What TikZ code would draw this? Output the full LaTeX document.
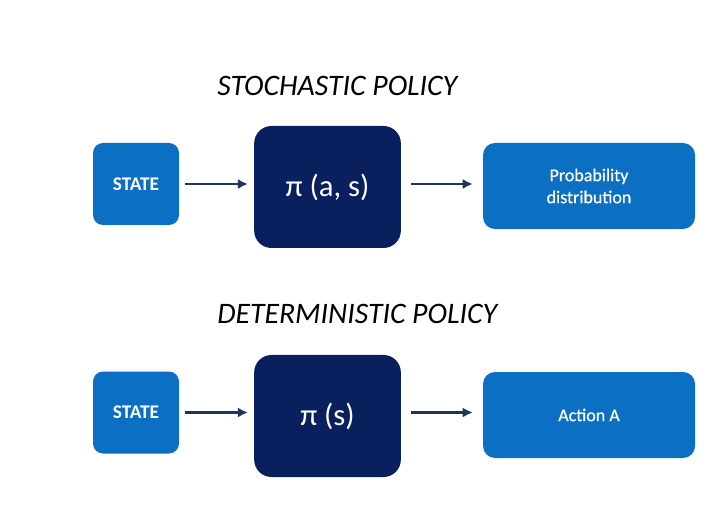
\documentclass[tikz,border=0pt]{standalone}
\usepackage{fontspec}
\setmainfont{Carlito}
\newfontfamily\semibold[FakeBold=0.6]{Carlito}
\usetikzlibrary{arrows.meta, positioning}
\definecolor{boxBlue}{HTML}{0B6FC4}
\definecolor{boxNavy}{HTML}{0A1F5E}
\definecolor{arrowNavy}{HTML}{1F3260}

\begin{document}
\begin{tikzpicture}[x=0.75pt, y=-0.75pt]
  \tikzstyle{box}=[rectangle, fill=boxBlue, text=white, align=center, inner sep=0pt]
  \tikzstyle{state box}=[box, minimum width=64.5pt, minimum height=61.5pt, rounded corners=7.5pt, font=\fontsize{14.5}{17}\selectfont\bfseries]
  \tikzstyle{policy box}=[box, fill=boxNavy, minimum width=110pt, minimum height=91.5pt, rounded corners=13pt, font=\fontsize{23}{26}\selectfont]
  \tikzstyle{out box}=[box, minimum width=159pt, minimum height=64.5pt, rounded corners=9pt, font=\fontsize{13.5}{16.5}\selectfont\semibold]
  \tikzstyle{title}=[anchor=west, inner sep=0pt, font=\fontsize{22.3}{26}\selectfont\itshape]
  \tikzstyle{arr}=[draw=arrowNavy, line width=1.6pt, -{Latex[length=7.5pt, width=7.5pt]}]

  \useasboundingbox[fill=white] (0,0) rectangle (727,530);

  % Stochastic policy
  \node[title] (t-stoch) at (217,86) {STOCHASTIC POLICY};
  \node[state box] (S-1) at (136,184) {STATE};
  \node[policy box] (P-1) at (327.5,187) {π (a, s)};
  \node[out box] (O-1) at (589,186) {Probability\\distribution};

  % Deterministic policy
  \node[title] (t-det) at (217,314) {DETERMINISTIC POLICY};
  \node[state box] (S-2) at (136,412.5) {STATE};
  \node[policy box] (P-2) at (327.5,416) {π (s)};
  \node[out box] (O-2) at (589,415) {Action A};

  % Connect boxes
  \foreach \n in {1,2} {
    \draw[arr, shorten <=4.5pt, shorten >=4.5pt] (S-\n.east) -- (S-\n.east -| P-\n.west);
    \draw[arr, shorten <=7.5pt, shorten >=7.5pt] (P-\n.east |- S-\n.east) -- (O-\n.west |- S-\n.east);
  }
\end{tikzpicture}
\end{document}
